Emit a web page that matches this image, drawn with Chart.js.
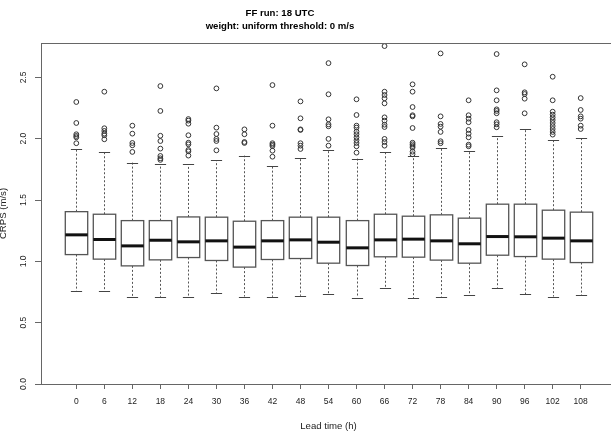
<!DOCTYPE html>
<html>
<head>
<meta charset="utf-8">
<script src="https://cdn.jsdelivr.net/npm/chart.js@4"></script>
<style>
html, body { margin: 0; padding: 0; background: #fff; overflow: hidden; }
#wrap { width: 611px; height: 432px; overflow: hidden; }
canvas { display: block; }
</style>
</head>
<body>
<div id="wrap"><canvas id="crpsChart" width="630" height="432"></canvas></div>
<script>
// Lead times (h) along the x axis
const leadTimes = [0, 6, 12, 18, 24, 30, 36, 42, 48, 54, 60, 66, 72, 78, 84, 90, 96, 102, 108];

// Box statistics, CRPS in m/s
const whiskerLow = [0.760, 0.757, 0.711, 0.711, 0.711, 0.741, 0.713, 0.711, 0.719, 0.730, 0.705, 0.784, 0.700, 0.713, 0.722, 0.784, 0.733, 0.713, 0.725];
const lowerQuartile = [1.055, 1.018, 0.963, 1.012, 1.031, 1.007, 0.953, 1.015, 1.023, 0.985, 0.966, 1.037, 1.034, 1.010, 0.985, 1.050, 1.039, 1.018, 0.990];
const medians = [1.216, 1.178, 1.126, 1.172, 1.159, 1.167, 1.116, 1.167, 1.175, 1.156, 1.110, 1.175, 1.181, 1.167, 1.143, 1.202, 1.200, 1.189, 1.167];
const upperQuartile = [1.405, 1.384, 1.332, 1.332, 1.362, 1.360, 1.327, 1.332, 1.360, 1.360, 1.332, 1.384, 1.368, 1.379, 1.352, 1.466, 1.466, 1.417, 1.401];
const whiskerHigh = [1.914, 1.894, 1.805, 1.791, 1.791, 1.824, 1.862, 1.778, 1.843, 1.908, 1.837, 1.889, 1.857, 1.927, 1.902, 2.022, 2.081, 1.992, 2.006];

// Outliers for each lead time
const outliers = [
    [2.299, 2.128, 2.036, 2.022, 2.011, 1.963],
    [2.383, 2.085, 2.063, 2.041, 2.028, 1.995],
    [2.106, 2.041, 1.965, 1.946, 1.892],
    [2.429, 2.226, 2.024, 1.981, 1.919, 1.859, 1.840, 1.827],
    [2.160, 2.147, 2.122, 2.028, 1.967, 1.954, 1.908, 1.897, 1.862],
    [2.410, 2.090, 2.038, 1.998, 1.981, 1.905],
    [2.076, 2.036, 1.973, 1.965],
    [2.437, 2.106, 1.963, 1.951, 1.940, 1.902, 1.853],
    [2.304, 2.166, 2.076, 2.071, 1.963, 1.943, 1.916],
    [2.616, 2.362, 2.158, 2.117, 2.101, 1.998, 1.943],
    [2.321, 2.193, 2.106, 2.090, 2.057, 2.036, 2.011, 1.987, 1.965, 1.938, 1.886],
    [2.755, 2.383, 2.356, 2.329, 2.288, 2.174, 2.147, 2.114, 2.095, 1.998, 1.973, 1.943],
    [2.443, 2.383, 2.258, 2.191, 2.182, 2.087, 1.967, 1.954, 1.940, 1.927, 1.894, 1.873],
    [2.695, 2.182, 2.120, 2.098, 2.055, 1.979, 1.963],
    [2.313, 2.191, 2.163, 2.134, 2.071, 2.041, 2.011, 1.951, 1.938],
    [2.690, 2.394, 2.313, 2.239, 2.226, 2.207, 2.134, 2.117, 2.093],
    [2.606, 2.378, 2.364, 2.326, 2.207],
    [2.505, 2.313, 2.220, 2.196, 2.174, 2.152, 2.128, 2.103, 2.079, 2.055, 2.033],
    [2.331, 2.234, 2.182, 2.163, 2.106, 2.079]
];

// y axis tick values and labels
const yTicks = [0, 0.5, 1, 1.5, 2, 2.5];
const yTickLabels = ['0.0', '0.5', '1.0', '1.5', '2.0', '2.5'];

const FONT = '"Liberation Sans", Arial, sans-serif';

// Boxes, whiskers and medians drawn with the chart's scales
const boxPlugin = {
    id: 'boxes',
    beforeDatasetsDraw(chart) {
        const { ctx, scales: { x, y } } = chart;
        const halfBox = x.getPixelForValue(0.4) - x.getPixelForValue(0);
        const halfCap = halfBox / 2;
        ctx.save();
        leadTimes.forEach((lt, i) => {
            const cx = Math.round(x.getPixelForValue(i)) + 0.5;
            const yLo = y.getPixelForValue(whiskerLow[i]);
            const yQ1 = y.getPixelForValue(lowerQuartile[i]);
            const yMed = y.getPixelForValue(medians[i]);
            const yQ3 = y.getPixelForValue(upperQuartile[i]);
            const yHi = y.getPixelForValue(whiskerHigh[i]);

            // dashed whiskers
            ctx.strokeStyle = '#555';
            ctx.lineWidth = 1;
            ctx.setLineDash([2, 2]);
            ctx.beginPath();
            ctx.moveTo(cx, yQ3); ctx.lineTo(cx, yHi);
            ctx.moveTo(cx, yQ1); ctx.lineTo(cx, yLo);
            ctx.stroke();
            ctx.setLineDash([]);

            // caps
            ctx.strokeStyle = '#444';
            ctx.beginPath();
            ctx.moveTo(cx - halfCap, Math.round(yHi) + 0.5); ctx.lineTo(cx + halfCap, Math.round(yHi) + 0.5);
            ctx.moveTo(cx - halfCap, Math.round(yLo) + 0.5); ctx.lineTo(cx + halfCap, Math.round(yLo) + 0.5);
            ctx.stroke();

            // box
            ctx.fillStyle = '#fff';
            ctx.strokeStyle = '#555';
            ctx.lineWidth = 1.3;
            ctx.fillRect(cx - halfBox, yQ3, halfBox * 2, yQ1 - yQ3);
            ctx.strokeRect(cx - halfBox, yQ3, halfBox * 2, yQ1 - yQ3);

            // median
            ctx.strokeStyle = '#111';
            ctx.lineWidth = 3;
            ctx.beginPath();
            ctx.moveTo(cx - halfBox, yMed); ctx.lineTo(cx + halfBox, yMed);
            ctx.stroke();
        });
        ctx.restore();
    },
    afterDraw(chart) {
        const { ctx, chartArea: a, scales: { y } } = chart;
        ctx.save();
        // frame
        ctx.strokeStyle = '#666';
        ctx.lineWidth = 1;
        ctx.strokeRect(a.left + 0.5, a.top + 0.5, a.right - a.left, a.bottom - a.top);

        ctx.fillStyle = '#222';
        ctx.textAlign = 'center';
        ctx.textBaseline = 'middle';

        // rotated y tick labels
        ctx.font = '8.5px ' + FONT;
        yTicks.forEach((v, i) => {
            ctx.save();
            ctx.translate(24, y.getPixelForValue(v));
            ctx.rotate(-Math.PI / 2);
            ctx.fillText(yTickLabels[i], 0, 0);
            ctx.restore();
        });

        // titles
        ctx.fillStyle = '#000';
        ctx.font = 'bold 9.6px ' + FONT;
        ctx.fillText('FF run: 18 UTC', 280, 13);
        ctx.fillText('weight: uniform threshold: 0 m/s', 280, 26.5);

        // axis labels
        ctx.fillStyle = '#222';
        ctx.font = '9.6px ' + FONT;
        ctx.fillText('Lead time (h)', (a.left + a.right) / 2, 426);
        ctx.save();
        ctx.translate(3, (a.top + a.bottom) / 2);
        ctx.rotate(-Math.PI / 2);
        ctx.fillText('CRPS (m/s)', 0, 0);
        ctx.restore();
        ctx.restore();
    }
};

const outlierPoints = outliers.flatMap((vals, i) => vals.map(v => ({ x: i, y: v })));

new Chart(document.getElementById('crpsChart').getContext('2d'), {
    type: 'scatter',
    data: {
        datasets: [{
            label: 'outliers',
            data: outlierPoints,
            pointStyle: 'circle',
            pointRadius: 2.4,
            borderColor: '#333',
            backgroundColor: 'rgba(0,0,0,0)',
            borderWidth: 1
        }]
    },
    options: {
        responsive: false,
        animation: false,
        layout: { padding: { top: 43, left: 0, right: 14, bottom: 0 } },
        plugins: {
            legend: { display: false },
            tooltip: { enabled: false },
            title: { display: false }
        },
        scales: {
            x: {
                type: 'linear',
                min: -1.26,
                max: 19.26,
                afterBuildTicks: (scale) => { scale.ticks = leadTimes.map((_, i) => ({ value: i })); },
                afterFit: (scale) => { scale.height = 48; },
                grid: { drawOnChartArea: false, tickLength: 5, color: '#666' },
                border: { display: false },
                ticks: {
                    autoSkip: false,
                    maxRotation: 0,
                    padding: 8,
                    color: '#222',
                    font: { family: FONT, size: 8.5 },
                    callback: (v) => leadTimes[v]
                }
            },
            y: {
                min: 0,
                max: 2.78,
                afterBuildTicks: (scale) => { scale.ticks = yTicks.map(v => ({ value: v })); },
                afterFit: (scale) => { scale.width = 41; },
                grid: { drawOnChartArea: false, tickLength: 6, color: '#666' },
                border: { display: false },
                ticks: { display: false }
            }
        }
    },
    plugins: [boxPlugin]
});
</script>
</body>
</html>
